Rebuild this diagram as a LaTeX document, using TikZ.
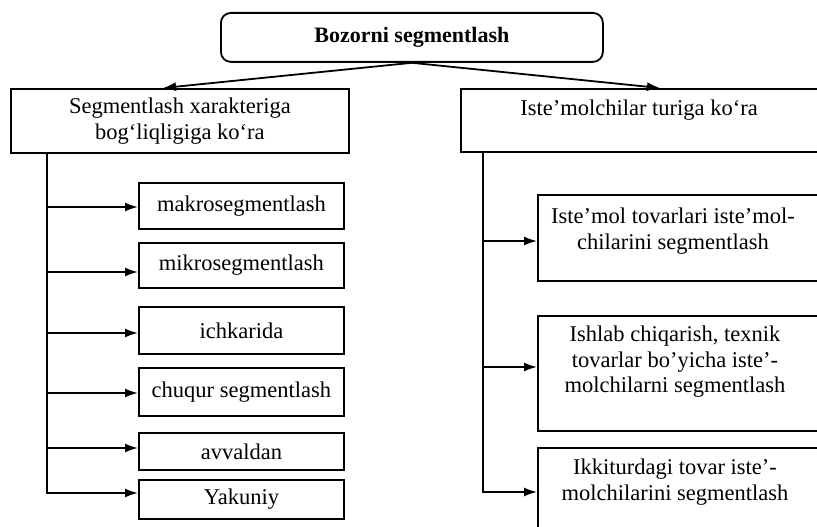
\documentclass[tikz,border=0pt]{standalone}
\usepackage{fontspec}
\setmainfont{Liberation Serif}
\usetikzlibrary{arrows.meta,calc}
\begin{document}
\begin{tikzpicture}[x=1pt,y=-1pt,
  box/.style={draw, line width=1.8pt, inner sep=0pt, anchor=north west,
    font=\fontsize{22.5}{25.5}\selectfont, align=center},
  lbl/.style={font=\fontsize{22.5}{25.5}\selectfont, align=center, inner sep=0pt},
  conn/.style={line width=1.8pt},
  arr/.style={line width=1.8pt, -{Latex[length=13pt,width=9pt]}}]
\useasboundingbox (0,0) rectangle (817,527);
\clip (0,0) rectangle (817,527);

% title
\node[box, rounded corners=10pt, minimum width=382pt, minimum height=49pt,
  font=\fontsize{22}{25}\selectfont\bfseries] (title) at (220,12) {Bozorni segmentlash};

% headers
\node[box, minimum width=338pt, minimum height=64pt] (lh) at (10,88)
  {Segmentlash xarakteriga\\bog‘liqligiga ko‘ra};
\node[box, minimum width=360pt, minimum height=63pt] (rh) at (460,88) {};
\node[lbl] (rhl) at (639,110) {Iste’molchilar turiga ko‘ra};

% left sub boxes
\node[box, minimum width=205pt, minimum height=46pt] (m1) at (138,182) {makrosegmentlash};
\node[box, minimum width=205pt, minimum height=45pt] (m2) at (138,242) {mikrosegmentlash};
\node[box, minimum width=205pt, minimum height=47pt] (m3) at (138,306) {ichkarida};
\node[box, minimum width=205pt, minimum height=48pt] (m4) at (138,367) {chuqur segmentlash};
\node[box, minimum width=205pt, minimum height=37pt] (m5) at (138,432) {avvaldan};
\node[box, minimum width=205pt, minimum height=39pt] (m6) at (138,479) {Yakuniy};

% right sub boxes
\node[box, minimum width=283pt, minimum height=86pt] (r1) at (537,194) {};
\node[lbl] (r1l) at (673,231) {Iste’mol tovarlari iste’mol-\\chilarini segmentlash};
\node[box, minimum width=283pt, minimum height=115pt] (r2) at (537,315) {};
\node[lbl] (r2l) at (675,362) {Ishlab chiqarish, texnik\\tovarlar bo’yicha iste’-\\molchilarni segmentlash};
\node[box, minimum width=283pt, minimum height=100pt] (r3) at (537,447) {};
\node[lbl] (r3l) at (675,482) {Ikkiturdagi tovar iste’-\\molchilarini segmentlash};

% top connectors
\draw[arr] (title.south) -- (lh.north -| 163,0);
\draw[arr] (title.south) -- (rh.north -| 660,0);

% left trunk
\draw[conn] (lh.south -| 47,0) -- (47,207);
\draw[arr] (lh.south -| 47,0) |- (m6.west |- 0,493);
\draw[arr] (47,207) -- (m1.west |- 0,207);
\draw[arr] (47,272) -- (m2.west |- 0,272);
\draw[arr] (47,333) -- (m3.west |- 0,333);
\draw[arr] (47,393) -- (m4.west |- 0,393);
\draw[arr] (47,448) -- (m5.west |- 0,448);

% right trunk
\draw[arr] (rh.south -| 483,0) |- (r3.west |- 0,492);
\draw[arr] (483,241) -- (r1.west |- 0,241);
\draw[arr] (483,367) -- (r2.west |- 0,367);
\end{tikzpicture}
\end{document}
